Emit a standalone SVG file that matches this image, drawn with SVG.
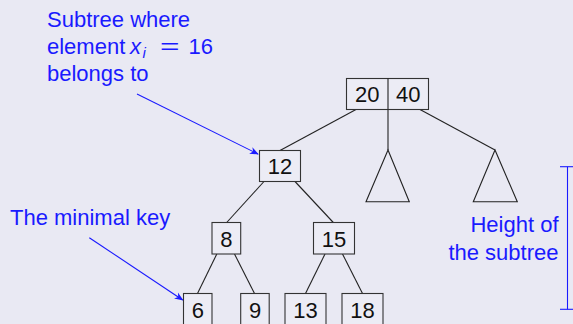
<svg xmlns="http://www.w3.org/2000/svg" width="573" height="324" viewBox="0 0 573 324">
<defs>
<style>
.box{fill:#ececf5;stroke:#333;stroke-width:1.1}
.edge{stroke:#222;stroke-width:1.1;fill:none}
.num{font-family:"Liberation Sans",Arial,sans-serif;font-size:22px;fill:#111;text-anchor:middle}
.lbl{font-family:"Liberation Sans",Arial,sans-serif;font-size:22px;fill:#1a1aff}
.blue{stroke:#1a1aff;stroke-width:1.1;fill:none}
</style>
<marker id="ah" viewBox="0 0 10 10" refX="9" refY="5" markerWidth="9" markerHeight="9" markerUnits="userSpaceOnUse" orient="auto">
<path d="M0,1 L10,5 L0,9 L3,5 Z" fill="#1a1aff"/>
</marker>
</defs>
<rect width="573" height="324" fill="#e9e9f3"/>
<g id="connectors">
<line class="edge" x1="356" y1="109.5" x2="280" y2="150.5"/>
<line class="edge" x1="388" y1="109.5" x2="388" y2="150"/>
<line class="edge" x1="420" y1="109.5" x2="495" y2="150"/>
<line class="edge" x1="264" y1="181.5" x2="226.7" y2="222.5"/>
<line class="edge" x1="295" y1="181.5" x2="333.3" y2="222.5"/>
<line class="edge" x1="216.8" y1="254" x2="197.5" y2="293.5"/>
<line class="edge" x1="234.5" y1="254" x2="254.5" y2="293.5"/>
<line class="edge" x1="325" y1="254" x2="305.5" y2="293.5"/>
<line class="edge" x1="342.5" y1="254" x2="362.5" y2="293.5"/>
<line class="blue" x1="137" y1="94" x2="258" y2="154" marker-end="url(#ah)"/>
<line class="blue" x1="89.3" y1="237.7" x2="182.7" y2="300" marker-end="url(#ah)"/>
</g>
<g id="root">
<rect class="box" x="346.5" y="78.5" width="82" height="31"/>
<line class="edge" x1="388" y1="78.5" x2="388" y2="109.5"/>
<text class="num" x="367.2" y="102">20</text>
<text class="num" x="408.3" y="102">40</text>
</g>
<g id="n12">
<rect class="box" x="259.5" y="150.5" width="41" height="31"/>
<text class="num" x="280" y="174">12</text>
</g>
<g id="tri-mid">
<polygon class="edge" points="388,150 366,201.7 409.3,201.7"/>
</g>
<g id="tri-right">
<polygon class="edge" points="495,150 473.3,201.7 517.3,201.7"/>
</g>
<g id="n8">
<rect class="box" x="212" y="222.5" width="28.7" height="31.5"/>
<text class="num" x="226.4" y="246.5">8</text>
</g>
<g id="n15">
<rect class="box" x="313.5" y="222.5" width="41" height="31.5"/>
<text class="num" x="334" y="246.5">15</text>
</g>
<g id="n6">
<rect class="box" x="183.5" y="293.5" width="28.5" height="31.5"/>
<text class="num" x="197.8" y="317.5">6</text>
</g>
<g id="n9">
<rect class="box" x="240.7" y="293.5" width="28.5" height="31.5"/>
<text class="num" x="255" y="317.5">9</text>
</g>
<g id="n13">
<rect class="box" x="285" y="293.5" width="41" height="31.5"/>
<text class="num" x="305.5" y="317.5">13</text>
</g>
<g id="n18">
<rect class="box" x="342" y="293.5" width="41" height="31.5"/>
<text class="num" x="362.5" y="317.5">18</text>
</g>
<g id="label-subtree">
<text class="lbl" x="47" y="27">Subtree where</text>
<text class="lbl" y="54"><tspan x="47">element</tspan><tspan x="130" font-style="italic">x</tspan><tspan x="142.5" y="58" font-size="15" font-style="italic">i</tspan><tspan x="160" y="54" textLength="19.5" lengthAdjust="spacingAndGlyphs">=</tspan><tspan x="188.5">16</tspan></text>
<text class="lbl" x="47" y="81">belongs to</text>
</g>
<g id="label-minimal">
<text class="lbl" x="10" y="225">The minimal key</text>
</g>
<g id="label-height">
<text class="lbl" x="558.5" y="231.7" text-anchor="end">Height of</text>
<text class="lbl" x="558.5" y="260" text-anchor="end">the subtree</text>
<line class="blue" x1="567.5" y1="166.7" x2="567.5" y2="309.3"/>
<line class="blue" x1="560" y1="166.7" x2="573" y2="166.7"/>
<line class="blue" x1="560" y1="309.3" x2="573" y2="309.3"/>
</g>
</svg>
